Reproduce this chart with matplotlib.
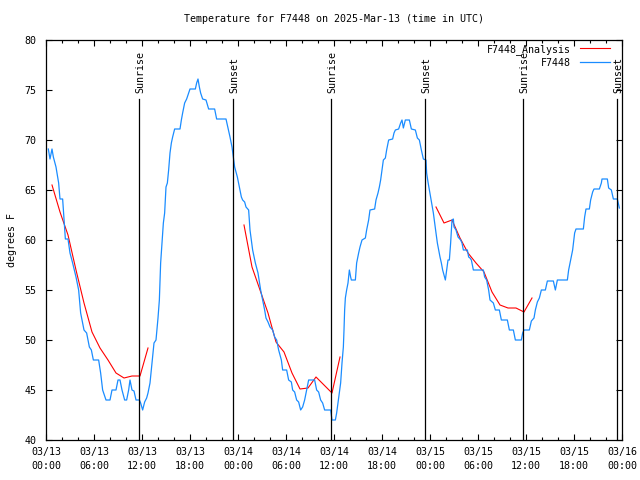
import matplotlib
matplotlib.use("Agg")
import matplotlib.pyplot as plt
from matplotlib.ticker import MultipleLocator

# ---- data (hours since 2025-03-13 00:00 UTC, degrees F) ----
obs_hours = [0.29, 0.50, 0.75, 0.92, 1.25, 1.58, 1.75, 2.08, 2.17, 2.42, 2.75, 3.00, 3.33, 3.75,
             4.08, 4.33, 4.58, 4.75, 5.08, 5.42, 5.67, 5.92, 6.58, 6.83, 7.08, 7.50, 8.00, 8.25,
             8.75, 9.00, 9.25, 9.50, 9.83, 10.08, 10.33, 10.50, 10.75, 11.00, 11.25, 11.67, 11.83,
             12.08, 12.33, 12.58, 12.75, 13.00, 13.25, 13.50, 13.75, 14.00, 14.17, 14.33, 14.50,
             14.67, 14.83, 15.00, 15.17, 15.33, 15.50, 15.67, 15.83, 16.08, 16.75, 16.92, 17.08,
             17.33, 17.58, 17.83, 18.00, 18.67, 18.83, 19.00, 19.17, 19.33, 19.58, 20.00, 20.33,
             21.08, 21.33, 22.50, 22.75, 23.00, 23.25, 23.42, 23.58, 23.92, 24.17, 24.42, 24.58,
             24.83, 25.00, 25.33, 25.50, 25.83, 26.17, 26.50, 26.83, 27.08, 27.33, 27.50, 27.75,
             28.00, 28.33, 28.58, 28.83, 29.08, 29.42, 29.58, 30.08, 30.33, 30.67, 30.83, 31.08,
             31.33, 31.58, 31.83, 32.08, 32.33, 32.58, 32.83, 33.58, 33.83, 34.08, 34.33, 34.58,
             34.83, 35.58, 35.75, 36.17, 36.33, 36.50, 36.67, 36.83, 37.00, 37.17, 37.25, 37.33,
             37.42, 37.58, 37.75, 37.92, 38.08, 38.17, 38.67, 38.83, 39.08, 39.25, 39.50, 39.92,
             40.08, 40.33, 40.50, 41.08, 41.25, 41.50, 41.67, 41.83, 42.00, 42.17, 42.42, 42.58,
             42.83, 43.33, 43.50, 43.67, 44.08, 44.33, 44.50, 44.67, 44.92, 45.42, 45.67, 46.17,
             46.42, 46.67, 46.92, 47.17, 47.50, 47.58, 47.75, 47.92, 48.08, 48.25, 48.42, 48.58,
             48.75, 48.92, 49.08, 49.25, 49.42, 49.58, 49.75, 49.92, 50.08, 50.25, 50.42, 50.58,
             50.75, 50.92, 51.00, 51.25, 51.50, 51.83, 52.00, 52.17, 52.67, 52.83, 53.00, 53.17,
             53.42, 54.67, 54.83, 55.08, 55.33, 55.50, 55.92, 56.17, 56.67, 56.92, 57.67, 57.92,
             58.42, 58.67, 59.42, 59.58, 59.75, 60.42, 60.67, 61.00, 61.17, 61.42, 61.67, 61.92,
             62.42, 62.67, 63.42, 63.67, 63.92, 65.17, 65.33, 65.58, 65.83, 66.08, 66.25, 67.17,
             67.33, 67.50, 67.92, 68.08, 68.33, 68.50, 69.17, 69.42, 69.50, 70.17, 70.33, 70.67,
             70.92, 71.42, 71.67]
obs_temps = [69.1, 68.1, 69.1, 68.3, 67.3, 65.7, 64.1, 64.1, 63.0, 60.1, 60.1, 58.7, 57.7, 56.3,
             55.0, 52.7, 51.7, 51.0, 50.7, 49.3, 49.0, 48.0, 48.0, 46.7, 45.0, 44.0, 44.0, 45.0,
             45.0, 46.0, 46.0, 45.0, 44.0, 44.0, 45.0, 46.0, 45.0, 44.9, 44.0, 44.0, 43.7,
             43.0, 43.8, 44.2, 44.7, 45.7, 47.7, 49.7, 50.0, 52.2, 54.0, 57.7, 59.7,
             61.7, 62.7, 65.3, 65.7, 67.0, 68.7, 69.7, 70.3, 71.1, 71.1, 72.0, 72.7,
             73.7, 74.1, 74.7, 75.1, 75.1, 75.7, 76.1, 75.3, 74.7, 74.1, 74.0, 73.1,
             73.1, 72.1, 72.1, 71.2, 70.3, 69.3, 68.3, 67.3, 66.3, 65.3, 64.3, 64.0,
             63.8, 63.3, 63.0, 61.0, 59.0, 57.7, 56.7, 55.0, 54.0, 53.0, 52.2, 51.8,
             51.3, 51.0, 50.3, 50.0, 49.0, 48.0, 47.0, 47.0, 46.0, 45.8, 45.0, 44.8,
             44.0, 43.8, 43.0, 43.3, 44.0, 45.0, 46.0, 46.0, 45.0, 44.8, 44.0, 43.7,
             43.0, 43.0, 42.0, 42.0, 42.7, 43.7, 44.7, 45.7, 47.7, 49.3, 51.0, 53.0,
             54.2, 55.0, 55.7, 57.0, 56.3, 56.0, 56.0, 57.7, 58.7, 59.3, 60.0, 60.2,
             61.0, 62.0, 63.0, 63.1, 64.0, 64.7, 65.3, 66.0, 67.0, 68.0, 68.2, 69.0,
             70.0, 70.1, 70.7, 71.0, 71.1, 71.7, 72.0, 71.2, 72.0, 72.0, 71.1, 71.0,
             70.2, 70.0, 69.0, 68.1, 68.0, 66.7, 65.8, 65.0, 64.2, 63.5, 62.7, 61.7,
             60.7, 59.7, 59.0, 58.3, 57.7, 57.0, 56.5, 56.0, 57.0, 58.0, 58.0, 59.7,
             62.0, 62.1, 61.3, 61.0, 60.3, 60.0, 59.7, 59.0, 59.0, 58.3, 58.2, 58.0,
             57.0, 57.0, 56.3, 56.0, 55.0, 54.0, 53.7, 53.0, 53.0, 52.0, 52.0, 51.0,
             51.0, 50.0, 50.0, 50.7, 51.0, 51.0, 51.9, 52.2, 53.0, 53.8, 54.2, 55.0,
             55.0, 55.9, 55.9, 55.0, 56.0, 56.0, 57.0, 58.0, 59.0, 60.7, 61.1, 61.1,
             62.3, 63.1, 63.1, 64.0, 64.8, 65.1, 65.1, 65.7, 66.1, 66.1, 65.2, 65.0,
             64.1, 64.1, 63.2]

ana1_hours = [0.75, 1.75, 2.75, 3.75, 4.75, 5.75, 6.75, 7.75, 8.75, 9.75, 10.75, 11.75, 12.75]
ana1_temps = [65.5, 62.8, 60.5, 57.0, 53.7, 50.8, 49.2, 48.0, 46.7, 46.2, 46.4, 46.4, 49.2]
ana2_hours = [24.75, 25.75, 26.75, 27.75, 28.75, 29.75, 30.75, 31.75, 32.75, 33.75, 34.75, 35.75, 36.75]
ana2_temps = [61.5, 57.3, 55.0, 52.7, 49.8, 48.8, 46.7, 45.1, 45.2, 46.3, 45.5, 44.7, 48.3]
ana3_hours = [48.75, 49.75, 50.75, 51.75, 52.75, 53.75, 54.75, 55.75, 56.75, 57.75, 58.75, 59.75, 60.75]
ana3_temps = [63.3, 61.7, 62.0, 60.2, 58.7, 57.7, 56.8, 54.8, 53.5, 53.2, 53.2, 52.8, 54.2]

sun_hours = [11.66, 23.42, 35.67, 47.42, 59.67, 71.42]
sun_labels = ["Sunrise", "Sunset", "Sunrise", "Sunset", "Sunrise", "Sunset"]

xtick_hours = [0, 6, 12, 18, 24, 30, 36, 42, 48, 54, 60, 66, 72]
xtick_labels = ["03/13\n00:00", "03/13\n06:00", "03/13\n12:00", "03/13\n18:00",
                "03/14\n00:00", "03/14\n06:00", "03/14\n12:00", "03/14\n18:00",
                "03/15\n00:00", "03/15\n06:00", "03/15\n12:00", "03/15\n18:00",
                "03/16\n00:00"]
yticks = [40, 45, 50, 55, 60, 65, 70, 75, 80]

title = "Temperature for F7448 on 2025-Mar-13 (time in UTC)"

# ---- drawing ----
FONT = "DejaVu Sans Mono"
FS = 7.2
plt.rcParams['font.family'] = [FONT]

fig = plt.figure(figsize=(6.4, 4.8), dpi=100)
ax = fig.add_axes([46/640, 40/480, 576/640, 400/480])

red = "#ff0000"
blue = "#1a8cff"

ax.plot(ana1_hours, ana1_temps, color=red, lw=0.8, label="F7448_Analysis")
ax.plot(ana2_hours, ana2_temps, color=red, lw=0.8)
ax.plot(ana3_hours, ana3_temps, color=red, lw=0.8)
ax.plot(obs_hours, obs_temps, color=blue, lw=0.9, label="F7448")

ytop_frac = (440 - 99) / 400
for h, lab in zip(sun_hours, sun_labels):
    ax.axvline(h, ymin=0, ymax=ytop_frac, color="black", lw=0.9)
    ax.text(h + 0.12, 80 - (93 - 40) / 10, lab, rotation=90, ha="center", va="bottom",
            fontsize=FS, family=FONT)

ax.set_xlim(0, 72)
ax.set_ylim(40, 80)
ax.set_xticks(xtick_hours)
ax.set_xticklabels(xtick_labels, fontsize=FS, linespacing=1.45)
ax.xaxis.set_minor_locator(MultipleLocator(2))
ax.set_yticks(yticks)
ax.set_yticklabels([str(v) for v in yticks], fontsize=FS)

ax.tick_params(axis="both", which="major", direction="in", length=4, width=0.8,
               top=True, right=True)
ax.tick_params(axis="x", which="major", pad=5)
ax.tick_params(axis="y", which="major", pad=7)
ax.tick_params(axis="x", which="minor", direction="in", length=2.5, width=0.8,
               top=True, bottom=True)
ax.tick_params(axis="y", which="minor", left=False, right=False)

for s in ax.spines.values():
    s.set_linewidth(0.9)
    s.set_color("black")

ax.set_ylabel("degrees F", fontsize=FS, labelpad=5.5)
fig.text(0.5 + 14/640, 1 - 19/480, title, ha="center", va="center", fontsize=FS, family=FONT)

leg = ax.legend(loc="upper right", bbox_to_anchor=(1 - 12/576, 1 - 4/400),
                markerfirst=False, frameon=False, borderaxespad=0, borderpad=0,
                handlelength=3.0, handletextpad=0.9, labelspacing=0.3,
                prop={"family": FONT, "size": FS})

fig.savefig("out.png", dpi=100)
